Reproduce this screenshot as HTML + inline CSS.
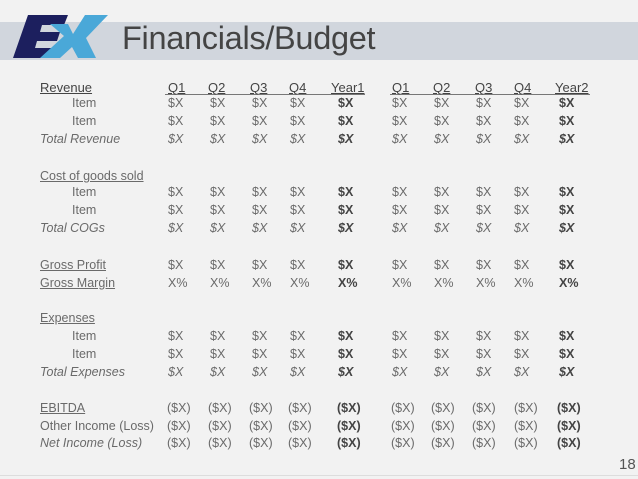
<!DOCTYPE html>
<html><head><meta charset="utf-8"><style>
body{margin:0;width:638px;height:479px;background:#f2f2f2;position:relative;overflow:hidden;font-family:"Liberation Sans",sans-serif;}
#band{position:absolute;left:0;top:22px;width:638px;height:38px;background:#d1d6dd;}
#title{position:absolute;left:122px;top:20px;font-size:32.5px;color:#444;letter-spacing:-0.3px;}
.r{position:absolute;left:0;width:638px;height:16px;font-size:12.5px;color:#6a6a6a;}
.r span{position:absolute;top:0;white-space:nowrap;}
.l{left:40px}.in{left:72px}
.a{left:168px}.b{left:210px}.c{left:252px}.d{left:290px}.e{left:338px}
.f{left:392px}.g{left:434px}.h{left:476px}.i{left:514px}.j{left:559px}
.bo{font-weight:bold;color:#444}
.it span{font-style:italic}
.u{text-decoration:underline}
.hd span{color:#444;text-decoration:underline;font-size:13px}
.hd .a{left:168px}.hd .b{left:208px}.hd .c{left:250px}.hd .d{left:289px}.hd .e{left:331px}
.hd .f{left:392px}.hd .g{left:433px}.hd .h{left:475px}.hd .i{left:514px}.hd .j{left:555px}
.p .a{left:167px}.p .b{left:208px}.p .c{left:249px}.p .d{left:288px}.p .e{left:337px}
.p .f{left:391px}.p .g{left:431px}.p .h{left:472px}.p .i{left:514px}.p .j{left:557px}
.hl{position:absolute;height:1px;background:#777;top:94px}
#pg{position:absolute;left:619px;top:456px;font-size:15px;color:#555}
#bl{position:absolute;left:0;top:475px;width:638px;height:1px;background:#ddd}
</style></head><body>
<div id="band"></div>
<svg style="position:absolute;left:0;top:10px" width="120" height="56">
<polygon points="28,5 68,5 64,15 42,15 40,22 60,22 57,31 37,31 35,38 57,38 53,48 13,48" fill="#1c1f5e"/>
<polygon points="50,14 68,14 73,24 85,5 108,5 86,28 96,48 78,48 72,37 60,48 40,48 64,26" fill="#4aa8d8"/>
</svg>
<div id="title">Financials/Budget</div>
<div class="hl" style="left:165px;width:200px"></div>
<div class="hl" style="left:390px;width:200px"></div>

<div class="r hd" style="top:80px"><span class="l">Revenue</span><span class="a">Q1</span><span class="b">Q2</span><span class="c">Q3</span><span class="d">Q4</span><span class="e">Year1</span><span class="f">Q1</span><span class="g">Q2</span><span class="h">Q3</span><span class="i">Q4</span><span class="j">Year2</span></div>
<div class="r" style="top:96px"><span class="in">Item</span><span class="a">$X</span><span class="b">$X</span><span class="c">$X</span><span class="d">$X</span><span class="e bo">$X</span><span class="f">$X</span><span class="g">$X</span><span class="h">$X</span><span class="i">$X</span><span class="j bo">$X</span></div>
<div class="r" style="top:114px"><span class="in">Item</span><span class="a">$X</span><span class="b">$X</span><span class="c">$X</span><span class="d">$X</span><span class="e bo">$X</span><span class="f">$X</span><span class="g">$X</span><span class="h">$X</span><span class="i">$X</span><span class="j bo">$X</span></div>
<div class="r it" style="top:132px"><span class="l">Total Revenue</span><span class="a">$X</span><span class="b">$X</span><span class="c">$X</span><span class="d">$X</span><span class="e bo">$X</span><span class="f">$X</span><span class="g">$X</span><span class="h">$X</span><span class="i">$X</span><span class="j bo">$X</span></div>

<div class="r" style="top:169px"><span class="l u">Cost of goods sold</span></div>
<div class="r" style="top:185px"><span class="in">Item</span><span class="a">$X</span><span class="b">$X</span><span class="c">$X</span><span class="d">$X</span><span class="e bo">$X</span><span class="f">$X</span><span class="g">$X</span><span class="h">$X</span><span class="i">$X</span><span class="j bo">$X</span></div>
<div class="r" style="top:203px"><span class="in">Item</span><span class="a">$X</span><span class="b">$X</span><span class="c">$X</span><span class="d">$X</span><span class="e bo">$X</span><span class="f">$X</span><span class="g">$X</span><span class="h">$X</span><span class="i">$X</span><span class="j bo">$X</span></div>
<div class="r it" style="top:221px"><span class="l">Total COGs</span><span class="a">$X</span><span class="b">$X</span><span class="c">$X</span><span class="d">$X</span><span class="e bo">$X</span><span class="f">$X</span><span class="g">$X</span><span class="h">$X</span><span class="i">$X</span><span class="j bo">$X</span></div>

<div class="r" style="top:258px"><span class="l u">Gross Profit</span><span class="a">$X</span><span class="b">$X</span><span class="c">$X</span><span class="d">$X</span><span class="e bo">$X</span><span class="f">$X</span><span class="g">$X</span><span class="h">$X</span><span class="i">$X</span><span class="j bo">$X</span></div>
<div class="r" style="top:276px"><span class="l u">Gross Margin</span><span class="a">X%</span><span class="b">X%</span><span class="c">X%</span><span class="d">X%</span><span class="e bo">X%</span><span class="f">X%</span><span class="g">X%</span><span class="h">X%</span><span class="i">X%</span><span class="j bo">X%</span></div>

<div class="r" style="top:311px"><span class="l u">Expenses</span></div>
<div class="r" style="top:329px"><span class="in">Item</span><span class="a">$X</span><span class="b">$X</span><span class="c">$X</span><span class="d">$X</span><span class="e bo">$X</span><span class="f">$X</span><span class="g">$X</span><span class="h">$X</span><span class="i">$X</span><span class="j bo">$X</span></div>
<div class="r" style="top:347px"><span class="in">Item</span><span class="a">$X</span><span class="b">$X</span><span class="c">$X</span><span class="d">$X</span><span class="e bo">$X</span><span class="f">$X</span><span class="g">$X</span><span class="h">$X</span><span class="i">$X</span><span class="j bo">$X</span></div>
<div class="r it" style="top:365px"><span class="l">Total Expenses</span><span class="a">$X</span><span class="b">$X</span><span class="c">$X</span><span class="d">$X</span><span class="e bo">$X</span><span class="f">$X</span><span class="g">$X</span><span class="h">$X</span><span class="i">$X</span><span class="j bo">$X</span></div>

<div class="r p" style="top:401px"><span class="l u">EBITDA</span><span class="a">($X)</span><span class="b">($X)</span><span class="c">($X)</span><span class="d">($X)</span><span class="e bo">($X)</span><span class="f">($X)</span><span class="g">($X)</span><span class="h">($X)</span><span class="i">($X)</span><span class="j bo">($X)</span></div>
<div class="r p" style="top:419px"><span class="l">Other Income (Loss)</span><span class="a">($X)</span><span class="b">($X)</span><span class="c">($X)</span><span class="d">($X)</span><span class="e bo">($X)</span><span class="f">($X)</span><span class="g">($X)</span><span class="h">($X)</span><span class="i">($X)</span><span class="j bo">($X)</span></div>
<div class="r p" style="top:436px"><span class="l" style="font-style:italic">Net Income (Loss)</span><span class="a">($X)</span><span class="b">($X)</span><span class="c">($X)</span><span class="d">($X)</span><span class="e bo">($X)</span><span class="f">($X)</span><span class="g">($X)</span><span class="h">($X)</span><span class="i">($X)</span><span class="j bo">($X)</span></div>

<div id="pg">18</div>
<div id="bl"></div>
</body></html>
